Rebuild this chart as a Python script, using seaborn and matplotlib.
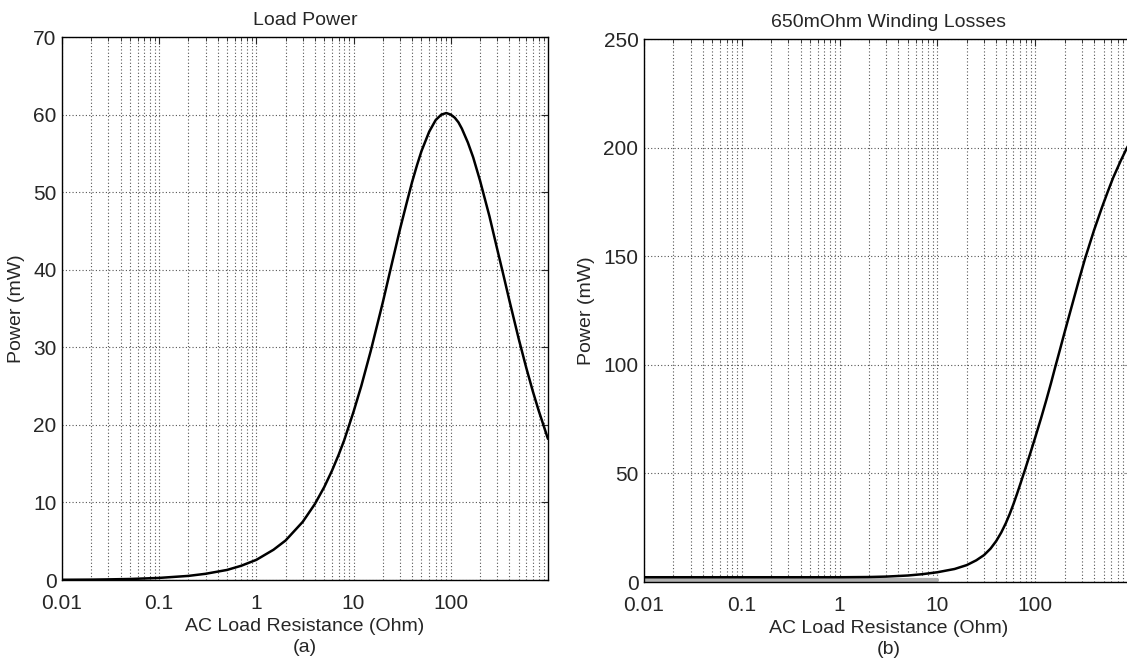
import numpy as np
import pandas as pd
import matplotlib
matplotlib.use('Agg')
import matplotlib.pyplot as plt
import matplotlib.ticker as mticker
import seaborn as sns

# values
r_load = [0.01, 0.02, 0.03, 0.05, 0.1, 0.2, 0.3, 0.5, 0.7, 1, 1.5, 2, 3, 4, 5, 6, 7, 8,
          10, 12, 15, 20, 25, 30, 35, 40, 45, 50, 60, 70, 80, 90, 100, 110, 120, 130,
          150, 170, 200, 250, 300, 350, 400, 500, 600, 700, 800, 1000]
p_load = [0.03, 0.05, 0.08, 0.13, 0.27, 0.53, 0.80, 1.3, 1.84, 2.6, 3.9, 5.1, 7.5, 9.8,
          12.0, 14.1, 16.1, 18.0, 21.7, 25.0, 29.5, 35.8, 41.0, 45.2, 48.5, 51.3, 53.5,
          55.3, 57.8, 59.3, 60.0, 60.2, 60.0, 59.6, 59.0, 58.2, 56.4, 54.5, 51.5, 46.9,
          42.7, 39.2, 36.1, 31.1, 27.3, 24.3, 21.9, 18.2]

r_wind = [0.01, 0.1, 1, 2, 3, 5, 7, 10, 15, 20, 25, 30, 35, 40, 45, 50, 55, 60, 65, 70,
          80, 90, 100, 115, 130, 145, 160, 180, 200, 240, 280, 324, 400, 482, 550, 625,
          750, 870, 1000]
p_wind = [2.2, 2.2, 2.2, 2.3, 2.5, 3.0, 3.6, 4.5, 6.0, 7.8, 10.0, 12.4, 15.4, 18.9, 22.8,
          27.0, 31.4, 35.9, 40.4, 44.7, 52.7, 59.9, 66.5, 75.5, 83.8, 91.5, 98.8, 107.3,
          115.0, 128.0, 139.0, 149.0, 162.0, 172.5, 179.5, 186.0, 194.0, 200.0, 204.5]

# faint grey trace hugging the axis in panel (b)
r_wind_low = [0.01, 10]
p_wind_low = [0.9, 0.9]

xticks = [0.01, 0.1, 1, 10, 100]
xticklabels = ['0.01', '0.1', '1', '10', '100']

sns.set_style('white')
plt.rcParams['font.family'] = ['Liberation Sans', 'DejaVu Sans']

fig = plt.figure(figsize=(11.27, 6.72), dpi=100)
ax1 = fig.add_axes([0.055, 0.1369, 0.4312, 0.808])
ax2 = fig.add_axes([0.5714, 0.1339, 0.4339, 0.808])

sns.lineplot(x=r_wind_low, y=p_wind_low, ax=ax2, color='#b0b0b0', linewidth=3)

panels = [
    (ax1, r_load, p_load, 'Load Power', 70, 10, '(a)'),
    (ax2, r_wind, p_wind, '650mOhm Winding Losses', 250, 50, '(b)'),
]

for ax, r, p, title, ymax, ystep, tag in panels:
    df = pd.DataFrame({'R': r, 'P': p})
    sns.lineplot(data=df, x='R', y='P', ax=ax, color='black', linewidth=1.8)
    ax.set_xscale('log')
    ax.set_xlim(0.01, 1000)
    ax.set_ylim(0, ymax)
    ax.set_xticks(xticks)
    ax.set_xticklabels(xticklabels)
    ax.xaxis.set_minor_locator(mticker.LogLocator(base=10, subs=np.arange(2, 10)))
    ax.xaxis.set_minor_formatter(mticker.NullFormatter())
    ax.set_yticks(np.arange(0, ymax + 1, ystep))
    ax.grid(True, which='both', axis='x', linestyle=(0, (1, 2)), color='#555555', linewidth=0.8)
    ax.grid(True, which='major', axis='y', linestyle=(0, (1, 2)), color='#555555', linewidth=0.8)
    ax.tick_params(which='both', direction='in', top=True, right=True, labelsize=15)
    ax.tick_params(axis='x', which='major', pad=10)
    ax.tick_params(axis='y', which='major', pad=4)
    ax.tick_params(which='major', length=5)
    ax.tick_params(which='minor', length=3)
    for s in ax.spines.values():
        s.set_color('black')
        s.set_linewidth(1.0)
    ax.set_title(title, fontsize=14, pad=9)
    ax.set_xlabel('AC Load Resistance (Ohm)\n' + tag, fontsize=14, linespacing=1.25, labelpad=4)
    ax.set_ylabel('Power (mW)', fontsize=14, labelpad=6)

plt.savefig('out.png', dpi=100)
